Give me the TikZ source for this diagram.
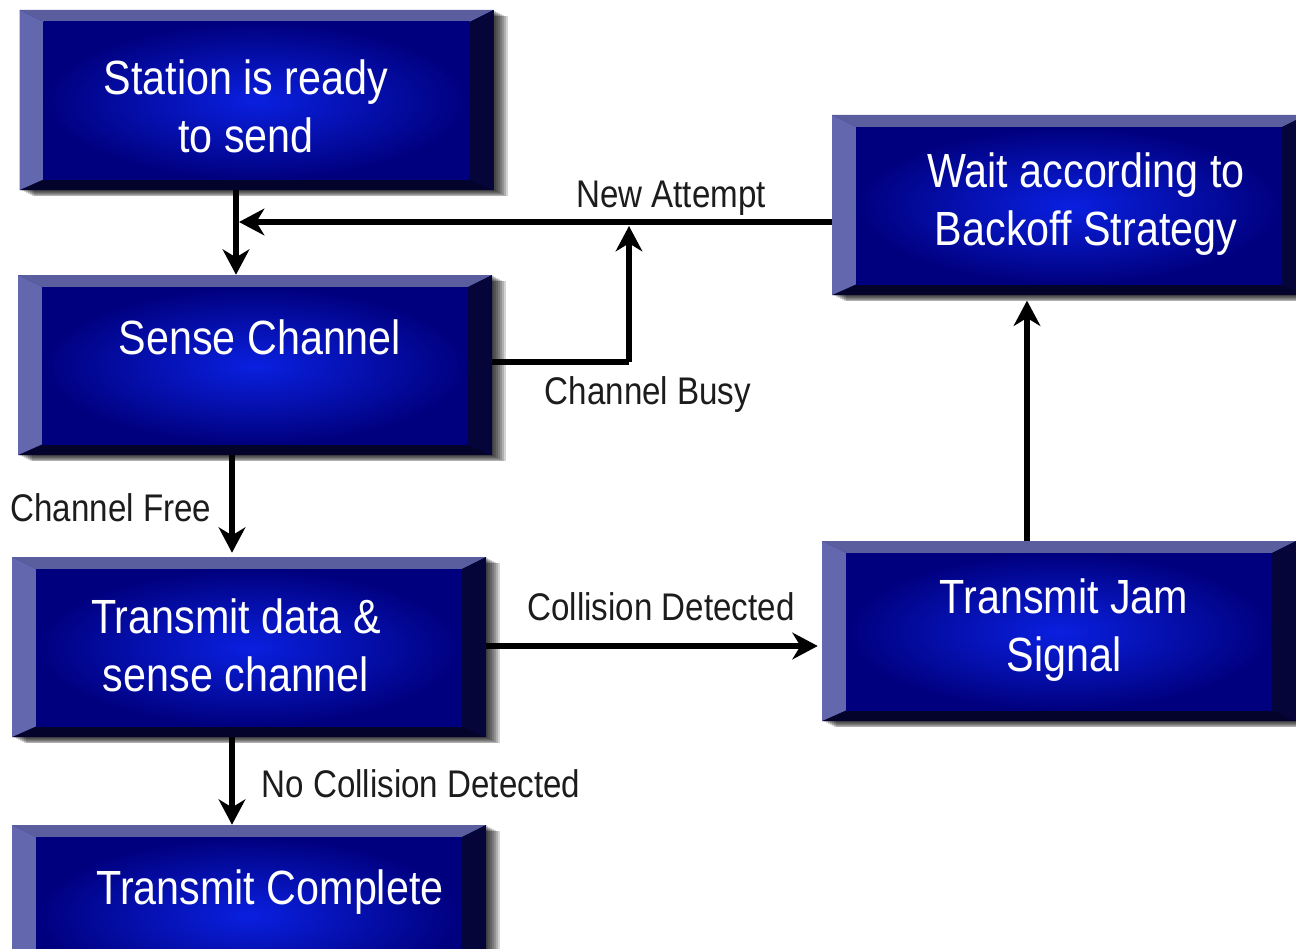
\documentclass[tikz,border=0pt]{standalone}
\usepackage{fontspec}
\setmainfont{Liberation Sans}[FakeStretch=0.86]
\usetikzlibrary{arrows.meta}

\definecolor{bevtop}{HTML}{5A5E9E}
\definecolor{bevleft}{HTML}{6367AE}
\definecolor{bevright}{HTML}{05053A}
\definecolor{bevbottom}{HTML}{03032C}
\definecolor{corelight}{HTML}{0A20E0}
\definecolor{coredark}{HTML}{00007E}
\definecolor{labelgray}{HTML}{1C1C1C}

\tikzset{
  shadowstep/.style 2 args={preaction={fill=black, fill opacity=0.17,
      transform canvas={shift={(#1,#2)}}}},
  softshadow/.style={shadowstep={1.5pt}{-1pt}, shadowstep={3pt}{-1.5pt},
    shadowstep={4.5pt}{-2.2pt}, shadowstep={6pt}{-3pt}, shadowstep={7.5pt}{-3.6pt},
    shadowstep={9pt}{-4.2pt}, shadowstep={10.5pt}{-4.8pt}},
  panel/.style={rectangle, inner sep=0pt, minimum width=355.5pt, minimum height=135pt,
    softshadow, fill=coredark,
    path picture={
      \coordinate (pnw) at (path picture bounding box.north west);
      \coordinate (pne) at (path picture bounding box.north east);
      \coordinate (psw) at (path picture bounding box.south west);
      \coordinate (pse) at (path picture bounding box.south east);
      \coordinate (inw) at ([xshift=18pt,yshift=-9pt]pnw);
      \coordinate (ine) at ([xshift=-18pt,yshift=-9pt]pne);
      \coordinate (isw) at ([xshift=18pt,yshift=8pt]psw);
      \coordinate (ise) at ([xshift=-18pt,yshift=8pt]pse);
      \fill[bevtop] (pnw) -- (pne) -- (ine) -- (inw) -- cycle;
      \fill[bevbottom] (psw) -- (pse) -- (ise) -- (isw) -- cycle;
      \fill[bevleft] (pnw) -- (inw) -- (isw) -- (psw) -- cycle;
      \fill[bevright] (pne) -- (ine) -- (ise) -- (pse) -- cycle;
      \shade[inner color=corelight, outer color=coredark] (inw) rectangle (ise);
    }},
  paneltext/.style={text=white, align=center, inner sep=0pt,
    font=\fontsize{36}{43.5}\selectfont},
  flowlabel/.style={text=labelgray, inner sep=0pt, font=\fontsize{28.9}{34}\selectfont},
  flow/.style={line width=4.2pt, draw=black,
    -{Stealth[length=19pt, width=20pt, inset=6pt]}},
  plain/.style={line width=4.2pt, draw=black},
}

\begin{document}
\begin{tikzpicture}[x=0.75pt, y=-0.75pt]
  \clip (0,0) rectangle (1296,949);
  \fill[white] (0,0) rectangle (1296,949);

  % process boxes
  \node[panel] (station)  at (256.5,100) {};
  \node[panel] (sense)    at (255,365) {};
  \node[panel] (trans)    at (249,647) {};
  \node[panel] (complete) at (249,915) {};
  \node[panel] (wait)     at (1069,205) {};
  \node[panel] (jam)      at (1059,631) {};

  % box captions
  \node[paneltext] (station-t)  at (246,106) {Station is ready\\to send};
  \node[paneltext] (sense-t)    at (260,337) {Sense Channel};
  \node[paneltext] (trans-t)    at (236,645) {Transmit data \&\\sense channel};
  \node[paneltext] (complete-t) at (270,892) {Transmit Complete};
  \node[paneltext] (wait-t)     at (1086,204) {Wait according to\\Backoff Strategy};
  \node[paneltext] (jam-t)      at (1064,630) {Transmit Jam\\Signal};

  % routing points
  \coordinate (merge) at (239,222);
  \coordinate (busy)  at (629,362);
  \coordinate (busytop) at (629,226);

  % connectors
  \draw[flow] (station.south -| 236,0) -- (sense.north -| 236,0);
  \draw[flow] (wait.west |- merge) -- (merge);
  \draw[plain] (sense.east |- busy) -- (busy);
  \draw[flow] (busy) -- (busytop);
  \draw[flow] (sense.south -| 232,0) -- ([yshift=3pt]trans.north -| 232,0);
  \draw[flow] (trans.east |- 0,646) -- ([xshift=-3pt]jam.west |- 0,646);
  \draw[flow] (jam.north -| 1027,0) -- ([yshift=-4pt]wait.south -| 1027,0);
  \draw[flow] (trans.south -| 232,0) -- (complete.north -| 232,0);

  % connector labels
  \node[flowlabel] (lbl-new)   at (671,198) {New Attempt};
  \node[flowlabel] (lbl-busy)  at (648,395) {Channel Busy};
  \node[flowlabel] (lbl-free)  at (111,508) {Channel Free};
  \node[flowlabel] (lbl-coll)  at (661,607) {Collision Detected};
  \node[flowlabel] (lbl-nocoll) at (421,784) {No Collision Detected};
\end{tikzpicture}
\end{document}
